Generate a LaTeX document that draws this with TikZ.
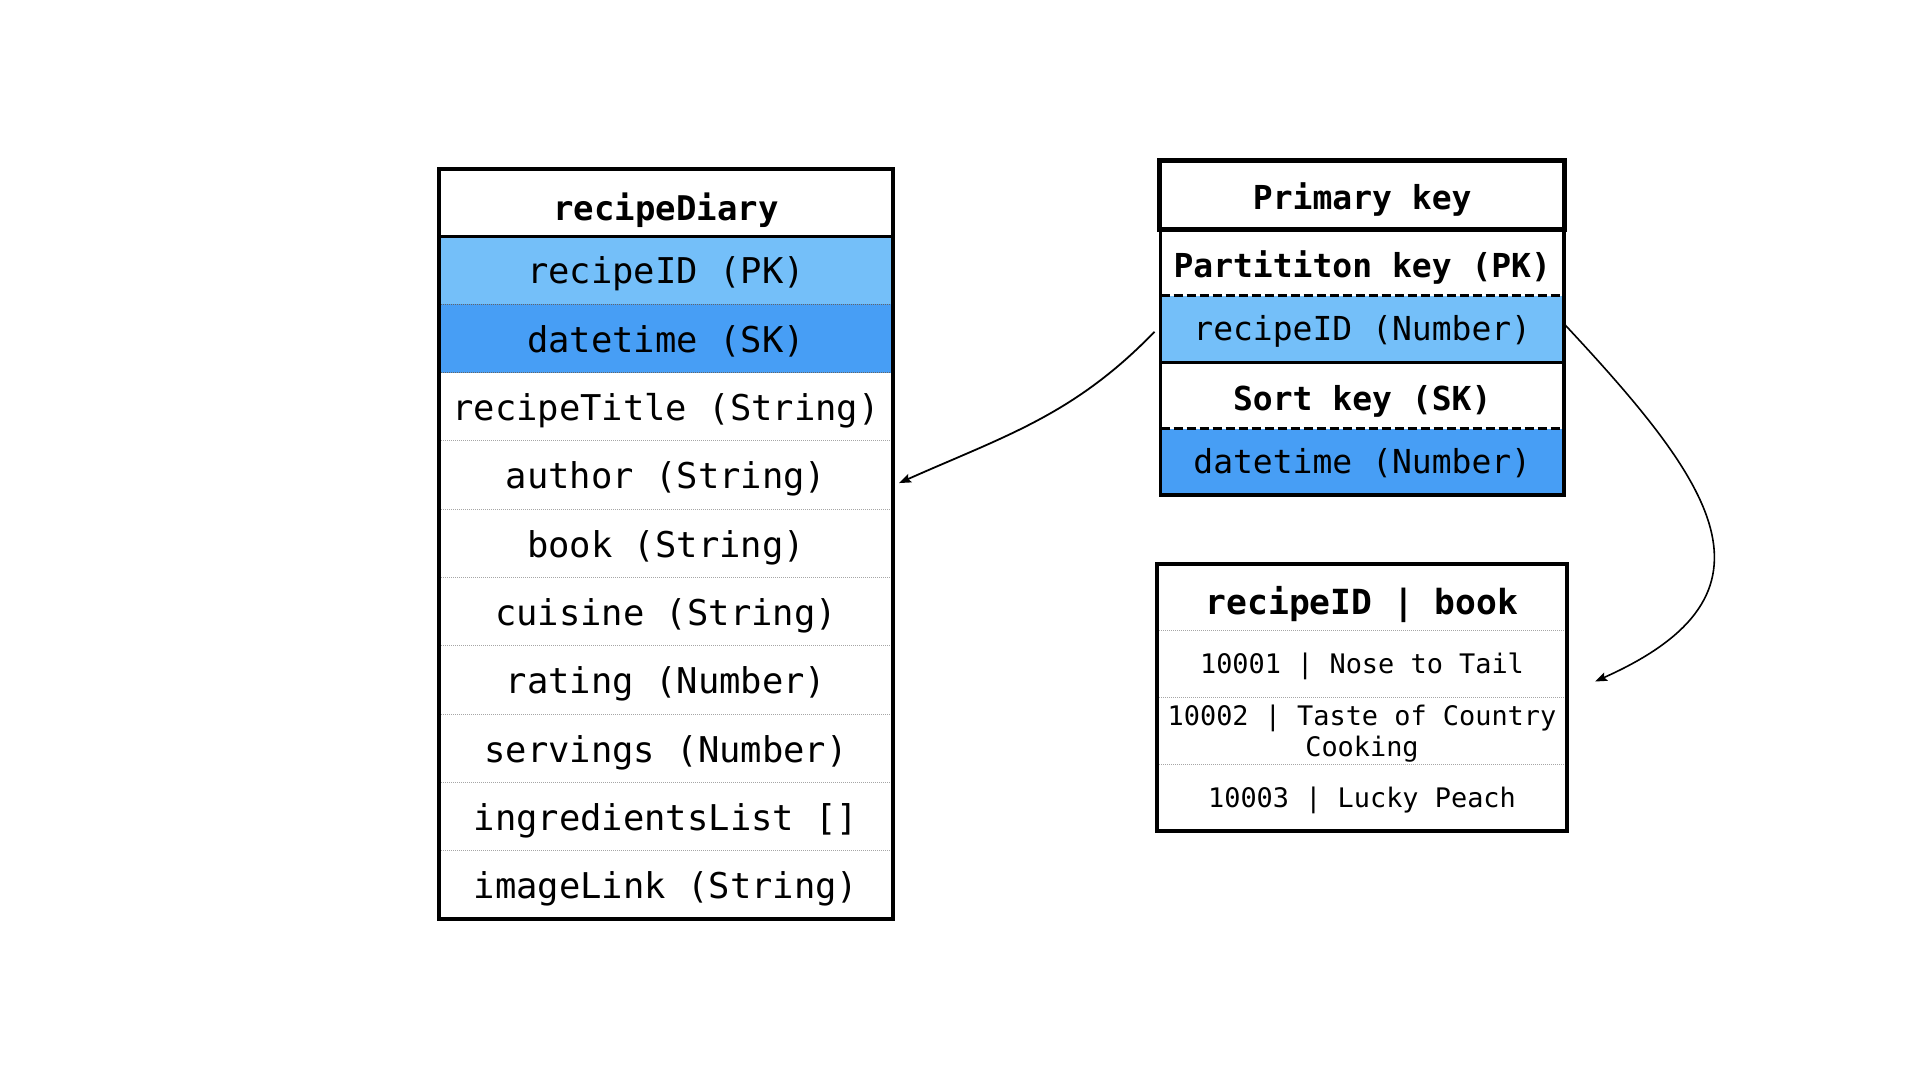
\documentclass[tikz,border=0pt]{standalone}
\usepackage{fontspec}
\setmonofont{DejaVu Sans Mono}
\usepackage{tikz}
\usetikzlibrary{positioning,arrows.meta}

\definecolor{pkblue}{RGB}{116,191,249}
\definecolor{skblue}{RGB}{71,158,245}

\begin{document}
\begin{tikzpicture}[x=1pt, y=1pt]

        % Canvas with the size of the reference
        \fill[white] (0, 0) rectangle (1920, -1080);
        \useasboundingbox (0, 0) rectangle (1920, -1080);

        % Looks of the cells and of the lines in turn
        \tikzset{
            cell/.style={inner sep=0pt, outer sep=0pt, minimum width=454pt,
                minimum height=68.3pt, text height=31pt, text depth=3.5pt,
                font=\ttfamily\fontsize{35.5}{40}\selectfont},
            headcell/.style={cell, minimum height=67pt, text height=35pt,
                text depth=0pt, font=\ttfamily\bfseries\fontsize{34}{40}\selectfont},
            keycell/.style={cell, minimum width=403.5pt, minimum height=66.5pt,
                text height=26pt, text depth=3pt,
                font=\ttfamily\fontsize{33}{38}\selectfont},
            keyhead/.style={keycell, text height=29.7pt, text depth=0pt,
                font=\ttfamily\bfseries\fontsize{33}{38}\selectfont},
            bookcell/.style={cell, minimum width=410pt, minimum height=67pt,
                text height=21pt, text depth=2pt,
                font=\ttfamily\fontsize{26.9}{31.5}\selectfont},
            bookwrap/.style={inner sep=0pt, outer sep=0pt, minimum width=410pt,
                minimum height=67pt, text depth=-2pt, align=center,
                font=\ttfamily\fontsize{26.9}{31.5}\selectfont},
            border/.style={draw=black, line width=3.5pt},
            sep/.style={draw=gray!70, line width=1pt, densely dotted},
            link/.style={draw=black, line width=1.8pt,
                -{Stealth[length=12pt, width=9pt, inset=2pt]}}
        }

        % Table recipeDiary, rows placed under one another
        \node[headcell] (L0) at (666, -202.5) {recipeDiary};
        \node[cell, fill=pkblue, below=0pt of L0] (L1) {recipeID (PK)};
        \node[cell, fill=skblue, below=0pt of L1] (L2) {datetime (SK)};
        \node[cell, below=0pt of L2] (L3) {recipeTitle (String)};
        \node[cell, below=0pt of L3] (L4) {author (String)};
        \node[cell, below=0pt of L4] (L5) {book (String)};
        \node[cell, below=0pt of L5] (L6) {cuisine (String)};
        \node[cell, below=0pt of L6] (L7) {rating (Number)};
        \node[cell, below=0pt of L7] (L8) {servings (Number)};
        \node[cell, below=0pt of L8] (L9) {ingredientsList []};
        \node[cell, below=0pt of L9] (L10) {imageLink (String)};

        % Primary key box
        \node[keyhead, minimum width=405pt, minimum height=68.5pt, fill=white,
            text height=29.7pt] (P0) at (1362.25, -194.75) {Primary key};
        \node[keyhead, below=0pt of P0] (P1) {Partititon key (PK)};
        \node[keycell, fill=pkblue, below=0pt of P1] (P2) {recipeID (Number)};
        \node[keyhead, below=0pt of P2] (P3) {Sort key (SK)};
        \node[keycell, fill=skblue, below=0pt of P3] (P4) {datetime (Number)};

        % Table of the items recipeID | book
        \node[bookcell, text height=34pt, text depth=0pt,
            font=\ttfamily\bfseries\fontsize{34.6}{40}\selectfont,
            minimum height=66pt] (B0) at (1362, -597) {recipeID | book};
        \node[bookcell, below=0pt of B0] (B1) {10001 | Nose to Tail};
        \node[bookwrap, below=0pt of B1] (B2) {10002 | Taste of Country\\Cooking};
        \node[bookcell, below=0pt of B2] (B3) {10003 | Lucky Peach};

        \begin{scope}[sep]
            \draw[draw=black!60] (L1.south west) -- (L1.south east);
            \draw[draw=black!60] (L2.south west) -- (L2.south east);
            \draw (L3.south west) -- (L3.south east);
            \draw (L4.south west) -- (L4.south east);
            \draw (L5.south west) -- (L5.south east);
            \draw (L6.south west) -- (L6.south east);
            \draw (L7.south west) -- (L7.south east);
            \draw (L8.south west) -- (L8.south east);
            \draw (L9.south west) -- (L9.south east);

            \draw (B0.south west) -- (B0.south east);
            \draw (B1.south west) -- (B1.south east);
            \draw (B2.south west) -- (B2.south east);
        \end{scope}

        \begin{scope}[line width=3pt, dash pattern=on 9pt off 4pt]
            \draw (P1.south west) -- (P1.south east);
            \draw (P3.south west) -- (P3.south east);
        \end{scope}

        \begin{scope}[border]
            \draw (L0.north west) rectangle (L10.south east);
            \draw[line width=3pt] (L0.south west) -- (L0.south east);

            \draw (P1.north west) rectangle (P4.south east);
            \draw[line width=3pt] (P2.south west) -- (P2.south east);
            \draw[line width=5pt] (P0.north west) rectangle (P0.south east);

            \draw[line width=4pt] (B0.north west) rectangle (B3.south east);
        \end{scope}

        % Connectors from the recipeID key
        \coordinate (E1) at ([xshift=28pt, yshift=-18pt]B1.east);
        \draw[link] ([xshift=-6pt, yshift=-3pt]P2.west) to[out=226, in=24]
            ([xshift=6pt, yshift=-8pt]L4.east);
        \draw[link, line width=1.6pt] ([yshift=5pt]P2.east)
            to[out=-47, in=24, looseness=1.55] (E1);

\end{tikzpicture}
\end{document}
